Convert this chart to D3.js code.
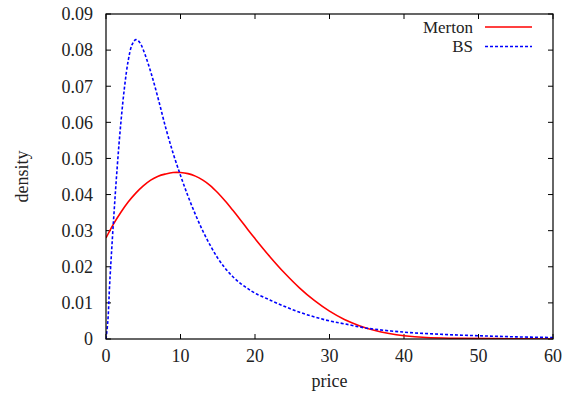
<!DOCTYPE html>
<html>
<head>
<meta charset="utf-8">
<script src="https://cdn.jsdelivr.net/npm/d3@7"></script>
<style>
html,body{margin:0;padding:0;background:#fff;}
svg{display:block;}
</style>
</head>
<body>
<svg id="chart" width="576" height="396"></svg>
<script>
// Data
const mertonX = [0,1,2,3,4,5,6,7,8,9,10,11,12,13,14,15,16,17,18,19,20,22,24,26,28,30,32,34,36,38,40,43,47,52,60];
const mertonY = [0.0280,0.0318,0.0351,0.0380,0.0404,0.0424,0.0440,0.0451,0.0457,0.0461,0.0461,0.0458,0.0451,0.0440,0.0425,0.0405,0.0382,0.0357,0.0331,0.0304,0.0278,0.0228,0.0182,0.0141,0.0106,0.0077,0.0054,0.0037,0.0024,0.0015,0.0009,0.0004,0.0002,0.0001,0.0000];
const bsX = [0,0.25,0.5,1,1.5,2,2.5,3,3.5,4,4.5,5,6,7,8,9,10,11,12,13,14,15,16,17,18,19,20,22,24,26,28,30,32,35,40,45,50,55,60];
const bsY = [0,0.0050,0.0155,0.0325,0.0475,0.0600,0.0700,0.0773,0.0815,0.0829,0.0822,0.0801,0.0740,0.0666,0.0586,0.0515,0.0453,0.0396,0.0345,0.0299,0.0259,0.0224,0.0196,0.0173,0.0155,0.0140,0.0127,0.0108,0.0090,0.0074,0.0061,0.0050,0.0042,0.0030,0.0019,0.0013,0.0009,0.0006,0.0004];
const xTicks = [0,10,20,30,40,50,60];
const yTicks = [0,0.01,0.02,0.03,0.04,0.05,0.06,0.07,0.08,0.09];
const yTickLabels = ["0","0.01","0.02","0.03","0.04","0.05","0.06","0.07","0.08","0.09"];
const seriesNames = ["Merton","BS"];
const seriesColors = ["#ff0000","#0000ff"];

const FONT = "'Liberation Serif','DejaVu Serif','Noto Serif',serif";
const svg = d3.select("#chart");
const L = 106, R = 553, T = 14, B = 339;
const x = d3.scaleLinear().domain([0,60]).range([L,R]);
const y = d3.scaleLinear().domain([0,0.09]).range([B,T]);
const fs = 18;

const g = svg.append("g").attr("font-family",FONT).attr("fill","#222");

const tl = 5;
xTicks.forEach(v => {
  g.append("line").attr("x1",x(v)).attr("x2",x(v)).attr("y1",B).attr("y2",B-tl).attr("stroke","#000");
  g.append("line").attr("x1",x(v)).attr("x2",x(v)).attr("y1",T).attr("y2",T+tl).attr("stroke","#000");
  g.append("text").attr("x",x(v)).attr("y",B+23).attr("text-anchor","middle").attr("font-size",fs).attr("font-family",FONT).text(v);
});
yTicks.forEach((v,i) => {
  g.append("line").attr("x1",L).attr("x2",L+tl).attr("y1",y(v)).attr("y2",y(v)).attr("stroke","#000");
  g.append("line").attr("x1",R).attr("x2",R-tl).attr("y1",y(v)).attr("y2",y(v)).attr("stroke","#000");
  g.append("text").attr("x",L-13).attr("y",y(v)).attr("dy","0.35em").attr("text-anchor","end").attr("font-size",fs).attr("font-family",FONT).text(yTickLabels[i]);
});

const line = d3.line().x(d=>x(d[0])).y(d=>y(d[1])).curve(d3.curveCatmullRom.alpha(0.5));
svg.append("clipPath").attr("id","clip").append("rect").attr("x",L).attr("y",T).attr("width",R-L).attr("height",B-T);
const mData = mertonX.map((v,i)=>[v,mertonY[i]]);
const bData = bsX.map((v,i)=>[v,bsY[i]]);
g.append("path").attr("d",line(mData)).attr("fill","none").attr("stroke",seriesColors[0]).attr("stroke-width",1.6).attr("clip-path","url(#clip)");
g.append("path").attr("d",line(bData)).attr("fill","none").attr("stroke",seriesColors[1]).attr("stroke-width",1.6).attr("stroke-dasharray","3,2").attr("clip-path","url(#clip)");

g.append("rect").attr("x",L).attr("y",T).attr("width",R-L).attr("height",B-T).attr("fill","none").attr("stroke","#000").attr("stroke-width",1.2);

g.append("text").attr("x",(L+R)/2).attr("y",387).attr("text-anchor","middle").attr("font-size",fs).attr("font-family",FONT).text("price");
g.append("text").attr("transform",`translate(28,${(T+B)/2}) rotate(-90)`).attr("text-anchor","middle").attr("font-size",fs).attr("font-family",FONT).text("density");

const lfs = 17;
seriesNames.forEach((n,i) => {
  const yy = 27 + i*19.5;
  g.append("text").attr("x",473).attr("y",yy).attr("dy","0.33em").attr("text-anchor","end").attr("font-size",lfs).attr("font-family",FONT).text(n);
  const ln = g.append("line").attr("x1",485).attr("x2",532).attr("y1",yy).attr("y2",yy).attr("stroke",seriesColors[i]).attr("stroke-width",1.6);
  if (i===1) ln.attr("stroke-dasharray","3,2");
});
</script>
</body>
</html>
